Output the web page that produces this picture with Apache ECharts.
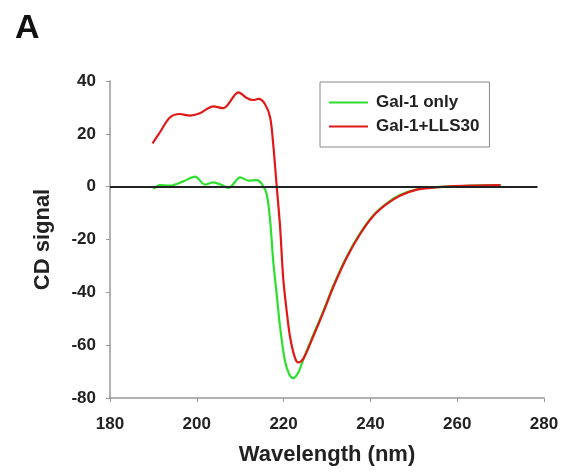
<!DOCTYPE html>
<html>
<head>
<meta charset="utf-8">
<script src="https://cdn.jsdelivr.net/npm/echarts@6/dist/echarts.min.js"></script>
<style>html,body{margin:0;padding:0;background:#fff;}#c{width:563px;height:473px;}</style>
</head>
<body>
<div id="c"></div>
<script>
// Wavelength (nm) and CD signal
const galOnlyX = [190, 191.5, 193.8, 196.9, 199.6, 201.9, 203.8, 205.5, 207.3, 210, 211.9, 213.8, 215, 216.1, 216.9, 217.6, 218.4, 219.2, 220.3, 221.3, 222.2, 223.4, 224.5, 226.8, 229.1, 231.5, 234.5, 237.6, 240.7, 243.7, 246.8, 250.7, 254.5, 258.3, 264, 270];
const galOnlyY = [-0.9, 0.6, 0.4, 2.0, 3.8, 0.8, 1.6, 0.8, -0.5, 3.5, 2.3, 2.5, 1.0, -2.8, -12.9, -28, -40.6, -53.3, -65.9, -71, -72.5, -70.3, -65.6, -56.2, -47.3, -37.3, -26.6, -17.7, -10.8, -6.4, -3.2, -1.0, -0.3, 0.1, 0.4, 0.6];
const galLlsX = [189.8, 191.5, 193.8, 196.1, 198.4, 200.7, 203.8, 206.1, 209.6, 211.5, 213, 214.2, 215.7, 216.9, 217.6, 218.4, 219.2, 219.9, 220.7, 221.5, 222.6, 223.4, 224.5, 226.8, 229.1, 231.5, 234.5, 237.6, 240.7, 243.7, 246.8, 250.7, 254.5, 258.3, 264, 270];
const galLlsY = [16.4, 20.6, 26.2, 27.5, 26.9, 27.8, 30.4, 29.7, 35.7, 33.6, 32.8, 33.2, 31.3, 26.2, 16.2, 0.4, -15.4, -34.4, -47, -57, -64.7, -66.5, -65.3, -56.8, -47.8, -37.8, -27, -18, -11, -6.6, -3.4, -1.1, -0.4, 0.1, 0.4, 0.6];
const xTicks = [180, 200, 220, 240, 260, 280];
const yTicks = [-80, -60, -40, -20, 0, 20, 40];
const seriesNames = ['Gal-1 only', 'Gal-1+LLS30'];

const zip = (xs, ys) => xs.map((x, i) => [x, ys[i]]);
const FONT = '"Liberation Sans", Arial, sans-serif';
const chart = echarts.init(document.getElementById('c'));
chart.setOption({
  animation: false,
  backgroundColor: '#fff',
  title: { text: 'A', left: 10, top: 7, textStyle: { fontFamily: FONT, fontWeight: 'bold', fontSize: 34, color: '#111' } },
  grid: { left: 110, right: 19, top: 81, bottom: 75 },
  legend: {
    orient: 'vertical', left: 320, top: 82,
    padding: [12, 10, 12, 9],
    itemWidth: 39, itemHeight: 14, itemGap: 7,
    borderColor: '#888', borderWidth: 1,
    icon: 'path://M0,6 L40,6 L40,8 L0,8 Z',
    textStyle: { fontFamily: FONT, fontWeight: 'bold', fontSize: 17, color: '#222', padding: [0, 0, 0, 3] },
    data: seriesNames
  },
  xAxis: {
    type: 'value', min: xTicks[0], max: xTicks[xTicks.length - 1], interval: 20,
    name: 'Wavelength (nm)', nameLocation: 'middle', nameGap: 46,
    nameTextStyle: { fontFamily: FONT, fontWeight: 'bold', fontSize: 22, color: '#222' },
    axisLine: { show: true, onZero: false, lineStyle: { color: '#999', width: 1.5 } },
    axisTick: { show: true, length: 4, lineStyle: { color: '#999' } },
    axisLabel: { fontFamily: FONT, fontWeight: 'bold', fontSize: 17, color: '#222', margin: 18 },
    splitLine: { show: false }
  },
  yAxis: {
    type: 'value', min: yTicks[0], max: yTicks[yTicks.length - 1], interval: 20,
    name: 'CD signal', nameLocation: 'middle', nameGap: 56,
    nameTextStyle: { fontFamily: FONT, fontWeight: 'bold', fontSize: 22, color: '#222' },
    axisLine: { show: true, onZero: false, lineStyle: { color: '#999', width: 1.5 } },
    axisTick: { show: true, length: 4, lineStyle: { color: '#999' } },
    axisLabel: { fontFamily: FONT, fontWeight: 'bold', fontSize: 17, color: '#222', margin: 14 },
    splitLine: { show: false }
  },
  series: [
    {
      name: seriesNames[0], type: 'line', data: zip(galOnlyX, galOnlyY),
      smooth: 0.3, showSymbol: false, color: '#2ee02e',
      lineStyle: { width: 2.2, color: '#2ee02e' },
      markLine: {
        silent: true, symbol: 'none', label: { show: false },
        lineStyle: { color: '#222', width: 2, type: 'solid' },
        data: [[{ coord: [180, 0] }, { coord: [278.5, 0] }]]
      },
      z: 3
    },
    {
      name: seriesNames[1], type: 'line', data: zip(galLlsX, galLlsY),
      smooth: 0.3, showSymbol: false, color: '#e01818',
      lineStyle: { width: 2.2, color: '#e01818' },
      z: 4
    }
  ]
});
</script>
</body>
</html>
